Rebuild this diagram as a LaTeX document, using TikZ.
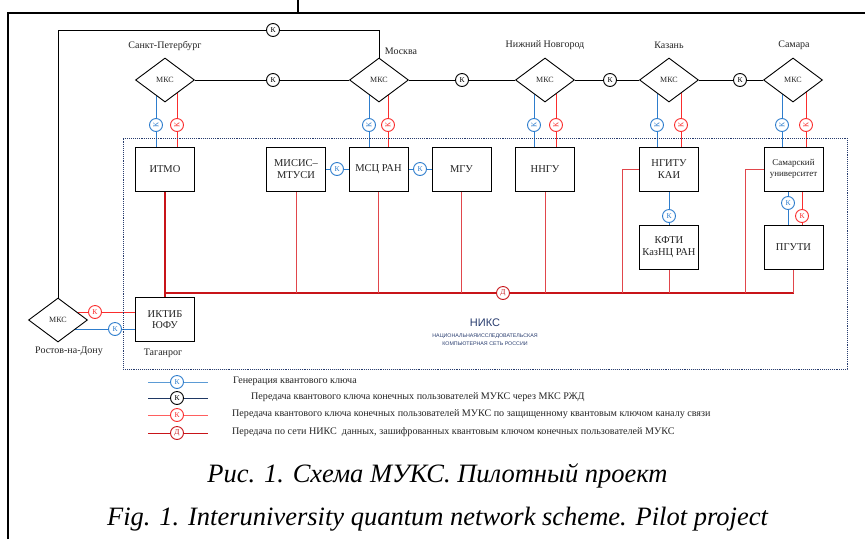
\documentclass[tikz,border=0pt]{standalone}
\usepackage{fontspec}
\setmainfont{Liberation Serif}
\newfontfamily\nikssans{Liberation Sans}
\usetikzlibrary{shapes.geometric}
\pgfdeclarelayer{bg}
\pgfsetlayers{bg,main}
\definecolor{kblue}{RGB}{46,125,205}
\definecolor{lblue}{RGB}{91,155,213}
\definecolor{kred}{RGB}{250,45,45}
\definecolor{llred}{RGB}{255,95,95}
\definecolor{dred}{RGB}{200,20,25}
\definecolor{lred}{RGB}{225,70,75}
\definecolor{navy}{RGB}{31,56,100}
\definecolor{niks}{RGB}{40,60,110}
\definecolor{txt}{RGB}{35,35,35}
\begin{document}
\begin{tikzpicture}[x=1pt,y=-1pt,
  mks/.style={diamond, draw, fill=white, line width=0.9pt, minimum width=59pt, minimum height=44pt, inner sep=0pt, font=\fontsize{8}{9}\selectfont, text=txt},
  box/.style={rectangle, draw, fill=white, line width=1pt, minimum width=59pt, minimum height=44pt, inner sep=1pt, align=center, font=\fontsize{10.5}{11.5}\selectfont, text=txt},
  mk/.style={circle, draw, fill=white, inner sep=0pt, minimum size=13pt, line width=0.9pt, font=\fontsize{7.5}{8}\selectfont},
  mkb/.style={mk, draw=kblue, text=kblue},
  mkr/.style={mk, draw=kred, text=kred},
  mkd/.style={mk, draw=dred, text=dred},
  city/.style={font=\fontsize{10}{12}\selectfont, text=txt, inner sep=0pt},
  leg/.style={font=\fontsize{10.1}{12}\selectfont, text=txt, inner sep=0pt, anchor=west},
  capt/.style={font=\fontsize{26.5}{30}\selectfont\itshape, text=black, inner sep=0pt, anchor=base},
  bl/.style={draw=kblue, line width=1pt},
  rd/.style={draw=kred, line width=1pt},
  bus/.style={draw=dred, line width=1.2pt},
  drop/.style={draw=lred, line width=1pt},
  blk/.style={draw=black, line width=0.9pt},
  frame/.style={draw=black, line width=1.4pt}]
\useasboundingbox (0,0) rectangle (865,539);

% frame
\coordinate (f0) at (298,0);
\coordinate (f1) at (298,13);
\coordinate (f2) at (8,13);
\coordinate (f3) at (865,13);
\coordinate (f4) at (8,539);
\draw[frame] (f0) -- (f1);
\draw[frame] (f4) -- (f2) -- (f3);

% NIKS area
\node[draw=niks, densely dotted, line width=0.9pt, minimum width=724pt, minimum height=231pt, inner sep=0pt] (niksrect) at (485,253.5) {};
\node[font=\nikssans\fontsize{11}{12}\selectfont, text=niks, inner sep=0pt] (niks) at (485,323) {НИКС};
\node[font=\nikssans\fontsize{5.3}{8}\selectfont, text=niks, align=center, inner sep=0pt] (niks2) at (485,340) {НАЦИОНАЛЬНАЯИССЛЕДОВАТЕЛЬСКАЯ\\КОМПЬЮТЕРНАЯ СЕТЬ РОССИИ};

% MKS diamonds
\node[mks] (spb) at (165,80) {МКС};
\node[mks] (msk) at (379,80) {МКС};
\node[mks] (nn) at (545,80) {МКС};
\node[mks] (kaz) at (669,80) {МКС};
\node[mks] (sam) at (793,80) {МКС};
\node[mks] (ros) at (58,320) {МКС};

% city labels
\node[city] (lspb) at (165,46) {Санкт-Петербург};
\node[city] (lmsk) at (401,51) {Москва};
\node[city] (lnn) at (545,45) {Нижний Новгород};
\node[city] (lkaz) at (669,45) {Казань};
\node[city] (lsam) at (794,45) {Самара};
\node[city] (lros) at (69,351) {Ростов-на-Дону};
\node[city] (ltag) at (163,353) {Таганрог};

% boxes
\node[box] (itmo) at (165,169) {ИТМО};
\node[box] (misis) at (296,169) {МИСИС–\\МТУСИ};
\node[box] (mscz) at (378.5,169) {МСЦ РАН};
\node[box] (mgu) at (461.5,169) {МГУ};
\node[box] (nngu) at (545,169) {ННГУ};
\node[box] (kai) at (669,169) {НГИТУ\\КАИ};
\node[box, font=\fontsize{9}{11}\selectfont] (samu) at (793.5,169) {Самарский\\университет};
\node[box] (kfti) at (669,247) {КФТИ\\КазНЦ РАН};
\node[box] (pguti) at (793.5,247) {ПГУТИ};
\node[box] (iktib) at (165,319.5) {ИКТИБ\\ЮФУ};

% black K markers
\node[mk] (k0) at (273,30) {К};
\node[mk] (k1) at (273,80) {К};
\node[mk] (k2) at (462,80) {К};
\node[mk] (k3) at (610,80) {К};
\node[mk] (k4) at (740,80) {К};

% vertical markers (rotated)
\node[mkb, rotate=90] (bs1) at (156,125) {К};
\node[mkr, rotate=90] (rs1) at (177,125) {К};
\node[mkb, rotate=90] (bs2) at (369,125) {К};
\node[mkr, rotate=90] (rs2) at (388,125) {К};
\node[mkb, rotate=90] (bs3) at (534,125) {К};
\node[mkr, rotate=90] (rs3) at (556,125) {К};
\node[mkb, rotate=90] (bs4) at (657,125) {К};
\node[mkr, rotate=90] (rs4) at (681,125) {К};
\node[mkb, rotate=90] (bs5) at (782,125) {К};
\node[mkr, rotate=90] (rs5) at (806,125) {К};

% other markers
\node[mkb] (kh1) at (337,169) {К};
\node[mkb] (kh2) at (420,169) {К};
\node[mkb] (kkv) at (669,216) {К};
\node[mkb] (ksb) at (788,203) {К};
\node[mkr] (ksr) at (802,216) {К};
\node[mkr] (krr) at (95,312) {К};
\node[mkb] (krb) at (115,329) {К};
\node[mkd] (dd) at (503,293) {Д};

\coordinate (kj) at (622,293);
\coordinate (sj) at (745,293);

\begin{pgfonlayer}{bg}
\draw[blk] (ros.north) |- (k0) -| (msk.north);
\draw[blk] (spb) -- (k1) -- (msk) -- (k2) -- (nn) -- (k3) -- (kaz) -- (k4) -- (sam);

\draw[bl] (bs1 |- spb.center) -- (bs1) -- (bs1 |- itmo.north);
\draw[rd] (rs1 |- spb.center) -- (rs1) -- (rs1 |- itmo.north);
\draw[bl] (bs2 |- msk.center) -- (bs2) -- (bs2 |- mscz.north);
\draw[rd] (rs2 |- msk.center) -- (rs2) -- (rs2 |- mscz.north);
\draw[bl] (bs3 |- nn.center) -- (bs3) -- (bs3 |- nngu.north);
\draw[rd] (rs3 |- nn.center) -- (rs3) -- (rs3 |- nngu.north);
\draw[bl] (bs4 |- kaz.center) -- (bs4) -- (bs4 |- kai.north);
\draw[rd] (rs4 |- kaz.center) -- (rs4) -- (rs4 |- kai.north);
\draw[bl] (bs5 |- sam.center) -- (bs5) -- (bs5 |- samu.north);
\draw[rd] (rs5 |- sam.center) -- (rs5) -- (rs5 |- samu.north);

\draw[bl] (misis) -- (kh1) -- (mscz) -- (kh2) -- (mgu);
\draw[bl] (kai) -- (kkv) -- (kfti);
\draw[bl] (ksb |- samu.south) -- (ksb) -- (ksb |- pguti.north);
\draw[rd] (ksr |- samu.south) -- (ksr) -- (ksr |- pguti.north);

\draw[rd] (ros.center |- krr) -- (krr) -- (krr -| iktib.west);
\draw[bl] (ros.center |- krb) -- (krb) -- (krb -| iktib.west);

\draw[bus] (itmo) -- (iktib);
\draw[bus] (itmo.south |- dd) -- (dd) -- (pguti.south |- dd);
\draw[drop] (misis) -- (misis |- dd);
\draw[drop] (mscz) -- (mscz |- dd);
\draw[drop] (mgu) -- (mgu |- dd);
\draw[drop] (nngu) -- (nngu |- dd);
\draw[drop] (kfti) -- (kfti |- dd);
\draw[drop] (pguti) -- (pguti |- dd);
\draw[drop] (kai.west) -| (kj);
\draw[drop] (samu.west) -| (sj);
\end{pgfonlayer}

% legend
\coordinate (la1) at (148,382); \coordinate (lb1) at (208,382);
\coordinate (la2) at (148,398); \coordinate (lb2) at (208,398);
\coordinate (la3) at (148,415); \coordinate (lb3) at (208,415);
\coordinate (la4) at (148,433); \coordinate (lb4) at (208,433);
\node[mkb] (lk1) at (177,382) {К};
\node[mk] (lk2) at (177,398) {К};
\node[mkr] (lk3) at (177,415) {К};
\node[mkd] (lk4) at (177,433) {Д};
\begin{pgfonlayer}{bg}
\draw[draw=lblue, line width=1pt] (la1) -- (lk1) -- (lb1);
\draw[draw=navy, line width=1pt] (la2) -- (lk2) -- (lb2);
\draw[draw=llred, line width=1pt] (la3) -- (lk3) -- (lb3);
\draw[draw=dred, line width=1pt] (la4) -- (lk4) -- (lb4);
\end{pgfonlayer}
\node[leg] (t1) at (233,381) {Генерация квантового ключа};
\node[leg] (t2) at (251,397) {Передача квантового ключа конечных пользователей МУКС через МКС РЖД};
\node[leg] (t3) at (232,414) {Передача квантового ключа конечных пользователей МУКС по защищенному квантовым ключом каналу связи};
\node[leg] (t4) at (232,432) {Передача по сети НИКС\ \ данных, зашифрованных квантовым ключом конечных пользователей МУКС};

% captions
\node[capt] (cap1) at (437.5,482) {Рис. 1. Схема МУКС. Пилотный проект};
\node[capt] (cap2) at (437.5,525) {Fig. 1. Interuniversity quantum network scheme. Pilot project};
\end{tikzpicture}
\end{document}
